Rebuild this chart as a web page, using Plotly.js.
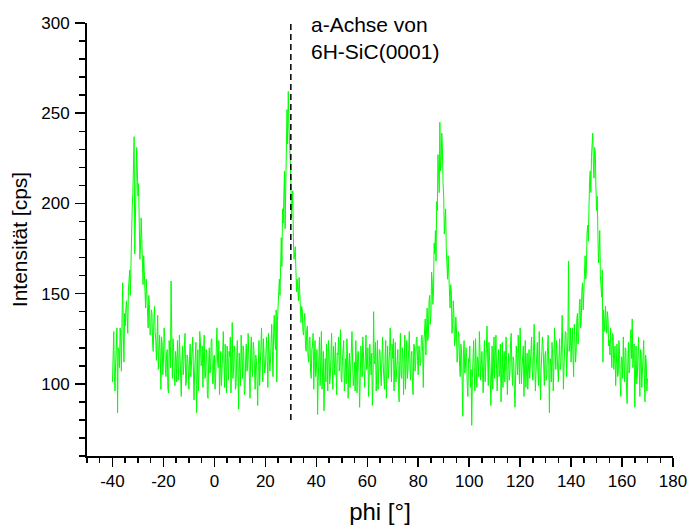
<!DOCTYPE html>
<html>
<head>
<meta charset="utf-8">
<script src="https://cdn.plot.ly/plotly-3.0.1.min.js"></script>
<style>
  html, body { margin: 0; padding: 0; background: #fff; }
  #chart { width: 688px; height: 529px; }
</style>
</head>
<body>
<div id="chart"></div>
<script>
// Sampling grid of the phi scan (degrees)
const phiStart = -40;
const phiStep = 0.25;

// Measured intensity [cps], one value per phi step (-40 ... 170)
const intensity = [
  101,118, 129,104, 96,112, 124,131, 84,120, 118,109, 131,125, 107,136, 156,128, 112,139,
  132,141, 146,137, 128,152, 158,163, 149,176, 187,198, 206,221, 237,172, 196,228, 231,219,
  204,211, 188,169, 176,192, 181,164, 155,171, 163,147, 142,158, 150,137, 131,149, 144,127,
  128,141, 139,122, 118,136, 143,129, 124,113, 131,138, 108,121, 127,115, 97,126, 122,105,
  112,131, 126,108, 104,117, 119,97, 95,124, 116,109, 157,114, 103,125, 120,106, 99,118,
  114,101, 124,112, 102,127, 117,96, 93,113, 121,105, 110,122, 128,99, 101,116, 115,108,
  97,115, 122,104, 109,118, 126,111, 91,107, 113,123, 84,102, 119,96, 106,129, 124,110,
  111,121, 98,116, 127,103, 104,119, 117,94, 92,112, 120,106, 108,124, 125,101, 100,115,
  116,97, 103,120, 131,112, 109,124, 94,105, 118,99, 106,117, 129,108, 98,122, 113,95,
  121,109, 102,118, 115,126, 95,111, 134,103, 107,121, 119,97, 99,114, 124,108, 86,117,
  110,99, 127,115, 103,121, 118,94, 96,112, 122,107, 108,128, 114,101, 92,119, 126,110,
  104,123, 119,108, 97,116, 113,102, 88,110, 124,99, 106,120, 131,114, 101,125, 117,106,
  109,122, 126,113, 98,128, 121,107, 112,131, 133,118, 104,129, 138,124, 119,141, 101,135,
  146,151, 158,149, 172,181, 165,197, 189,209, 218,186, 205,241, 252,233, 262,244, 236,221,
  214,192, 198,207, 181,169, 172,176, 163,151, 158,147, 146,159, 152,138, 134,143, 141,129,
  127,136, 139,121, 118,130, 132,115, 112,125, 126,107, 103,119, 121,128, 97,113, 124,104,
  108,119, 83,102, 117,126, 99,113, 129,97, 106,118, 85,109, 114,101, 122,115, 96,124,
  118,100, 104,115, 128,109, 97,121, 112,105, 123,98, 94,117, 116,126, 107,111, 130,103,
  101,113, 119,124, 96,108, 114,100, 125,116, 92,110, 117,98, 106,122, 129,112, 99,105,
  112,96, 124,110, 95,117, 118,106, 87,103, 121,114, 104,126, 116,99, 98,115, 127,108,
  109,120, 93,104, 122,113, 105,117, 88,101, 140,112, 111,123, 96,108, 124,97, 107,119,
  118,106, 99,114, 126,111, 104,97, 115,124, 92,109, 121,103, 108,118, 131,112, 101,122,
  114,125, 96,108, 123,101, 107,116, 119,98, 90,113, 128,105, 103,120, 116,94, 110,127,
  97,112, 124,103, 108,119, 129,110, 102,115, 118,99, 94,122, 121,107, 111,125, 126,113,
  105,121, 119,110, 112,126, 127,117, 98,123, 131,136, 116,129, 142,124, 128,146, 149,133,
  138,162, 157,144, 151,178, 172,185, 168,201, 196,227, 214,206, 245,218, 222,239, 231,211,
  204,183, 188,197, 176,165, 158,171, 163,149, 142,155, 151,128, 133,146, 139,121, 124,137,
  131,112, 116,129, 127,109, 104,122, 119,101, 82,117, 124,106, 108,120, 115,99, 93,114,
  112,121, 98,108, 77,103, 117,124, 106,96, 125,111, 98,115, 113,104, 129,118, 102,110,
  118,106, 95,114, 124,101, 107,119, 132,112, 99,123, 116,105, 88,113, 121,97, 110,126,
  103,115, 127,108, 96,111, 119,104, 108,122, 90,106, 123,98, 112,118, 101,113, 126,107,
  94,110, 117,102, 106,124, 128,109, 99,115, 113,96, 87,106, 121,113, 105,127, 118,100,
  131,114, 100,109, 115,121, 93,105, 124,98, 108,117, 97,112, 119,103, 111,122, 126,108,
  102,118, 133,111, 96,107, 117,123, 106,99, 129,113, 91,108, 114,126, 121,104, 99,116,
  118,102, 105,120, 127,110, 84,114, 112,101, 123,117, 96,109, 131,119, 108,124, 116,106,
  101,115, 125,108, 110,122, 138,117, 97,111, 120,129, 128,104, 113,126, 168,118, 121,131,
  112,124, 131,115, 104,133, 127,112, 118,136, 139,122, 126,144, 147,131, 135,152, 156,141,
  149,166, 171,158, 163,183, 188,179, 201,212, 218,206, 226,234, 239,221, 214,231, 228,209,
  196,204, 182,167, 174,185, 160,154, 148,163, 112,141, 137,129, 143,134, 128,140, 136,121,
  124,116, 131,119, 109,128, 127,108, 116,121, 99,113, 122,104, 105,124, 118,101, 93,115,
  114,103, 126,111, 101,120, 119,97, 89,112, 123,106, 108,125, 130,114, 136,109, 115,122,
  87,110, 121,100, 104,117, 126,108, 93,119, 118,98, 108,123, 124,105, 90,116, 112,96,
  103
];

// Marker line for the a-axis of 6H-SiC(0001)
const aAxisPhi = [30, 30];
const aAxisIntensity = [80, 300];
const aAxisLabel = ['a-Achse von', '6H-SiC(0001)'];

// Axis ticks
const xTickValues = [-40, -20, 0, 20, 40, 60, 80, 100, 120, 140, 160, 180];
const xTickLabels = ['-40', '-20', '0', '20', '40', '60', '80', '100', '120', '140', '160', '180'];
const yTickValues = [100, 150, 200, 250, 300];
const yTickLabels = ['100', '150', '200', '250', '300'];

const phi = intensity.map((_, i) => phiStart + i * phiStep);

const font = 'Arial, "Liberation Sans", Helvetica, sans-serif';

const traces = [
  {
    x: phi,
    y: intensity,
    type: 'scatter',
    mode: 'lines',
    line: { color: '#00ff00', width: 1 },
    hoverinfo: 'x+y',
    showlegend: false
  },
  {
    x: aAxisPhi,
    y: aAxisIntensity,
    type: 'scatter',
    mode: 'lines',
    line: { color: '#000000', width: 1.5, dash: '6px,4px' },
    hoverinfo: 'skip',
    showlegend: false
  }
];

const layout = {
  width: 688,
  height: 529,
  margin: { l: 87, r: 15, t: 23, b: 73, pad: 0 },
  paper_bgcolor: '#ffffff',
  plot_bgcolor: '#ffffff',
  font: { family: font, color: '#000000', size: 17 },
  showlegend: false,
  xaxis: {
    range: [-50, 180],
    tickmode: 'array',
    tickvals: xTickValues,
    ticktext: xTickLabels,
    ticks: 'outside',
    ticklen: 9,
    tickwidth: 1.5,
    tickcolor: '#000',
    minor: { dtick: 5, tick0: 0, ticks: 'outside', ticklen: 5, tickwidth: 1.5, tickcolor: '#000', showgrid: false },
    showline: true,
    linecolor: '#000',
    linewidth: 2,
    showgrid: false,
    zeroline: false,
    tickfont: { size: 17, family: font },
    title: { text: 'phi [°]', font: { size: 24, family: font }, standoff: 13 }
  },
  yaxis: {
    range: [60, 300],
    tickmode: 'array',
    tickvals: yTickValues,
    ticktext: yTickLabels,
    ticks: 'outside',
    ticklen: 10,
    tickwidth: 1.5,
    tickcolor: '#000',
    minor: { dtick: 10, tick0: 0, ticks: 'outside', ticklen: 6, tickwidth: 1.5, tickcolor: '#000', showgrid: false },
    showline: true,
    linecolor: '#000',
    linewidth: 2,
    showgrid: false,
    zeroline: false,
    tickfont: { size: 17, family: font },
    ticklabelstandoff: 2,
    title: { text: 'Intensität [cps]', font: { size: 21, family: font }, standoff: 8 }
  },
  annotations: [
    {
      xref: 'x', yref: 'paper',
      x: 37.3, y: 1.027,
      xanchor: 'left', yanchor: 'top',
      align: 'left',
      showarrow: false,
      text: aAxisLabel.join('<br>'),
      font: { size: 21, family: font, color: '#000' }
    }
  ]
};

Plotly.newPlot('chart', traces, layout, { staticPlot: true, displayModeBar: false });
</script>
</body>
</html>
